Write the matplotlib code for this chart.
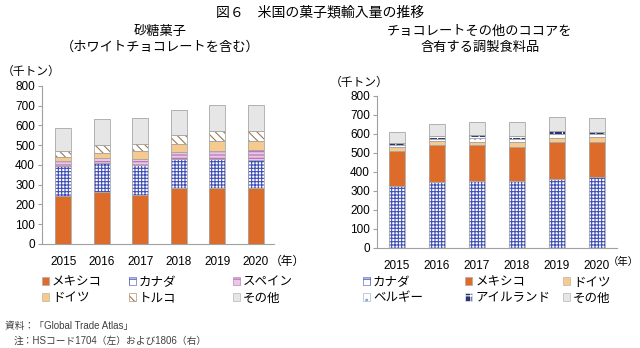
import numpy as np
import matplotlib
matplotlib.use("Agg")
import matplotlib.pyplot as plt
from matplotlib.patches import Patch

plt.rcParams['font.family'] = ['Liberation Sans', 'Noto Sans CJK JP', 'DejaVu Sans']
plt.rcParams['hatch.linewidth'] = 0.8

years = ["2015", "2016", "2017", "2018", "2019", "2020"]

# 左：砂糖菓子（累積値の上端を読み取り、差分で各国の量）
sugar_names = ["メキシコ", "カナダ", "スペイン", "ドイツ", "トルコ", "その他"]
sugar_mexico = [244, 263, 249, 283, 286, 286]
sugar_canada = [150, 146, 152, 146, 142, 137]
sugar_spain = [25, 24, 30, 39, 43, 52]
sugar_germany = [22, 30, 40, 40, 49, 47]
sugar_turkey = [29, 40, 37, 44, 51, 52]
sugar_other = [118, 128, 128, 128, 133, 128]

# 右：チョコレートその他のココアを含有する調製食料品
choco_names = ["カナダ", "メキシコ", "ドイツ", "ベルギー", "アイルランド", "その他"]
choco_canada = [325, 348, 353, 353, 364, 376]
choco_mexico = [183, 192, 187, 176, 193, 183]
choco_germany = [21, 21, 19, 28, 23, 23]
choco_belgium = [12, 15, 21, 18, 19, 17]
choco_ireland = [13, 11, 16, 12, 16, 13]
choco_other = [59, 63, 65, 76, 76, 72]

# 系列ごとの見た目 (面の色, ハッチ, ハッチの色)
styles = {
    "メキシコ": ("#DD6B2A", None, None),
    "カナダ": ("white", "+++++", "#3F4FB5"),
    "スペイン": ("#EBC6E6", "-----", "#B070B0"),
    "ドイツ": ("#F6C98C", None, None),
    "トルコ": ("white", "\\\\\\\\", "#9C7A55"),
    "その他": ("#E6E6E6", None, None),
    "ベルギー": ("white", "...", "#8AA4C4"),
    "アイルランド": ("#2B3270", "++", "white"),
}
edge = "#A8A8A8"

fig = plt.figure(figsize=(6.4, 3.48), dpi=100)
ax1 = fig.add_axes([0.0656, 0.2989, 0.3625, 0.454])
ax2 = fig.add_axes([0.589, 0.2874, 0.375, 0.4368])


def draw(ax, names, series, width):
    x = np.arange(len(years))
    bottom = np.zeros(len(years))
    handles = []
    for name, vals in zip(names, series):
        fc, hatch, hc = styles[name]
        vals = np.array(vals, dtype=float)
        if hatch:
            ax.bar(x, vals, width, bottom=bottom, color=fc, hatch=hatch,
                   edgecolor=hc, linewidth=0)
        else:
            ax.bar(x, vals, width, bottom=bottom, color=fc, linewidth=0)
        ax.bar(x, vals, width, bottom=bottom, fill=False, edgecolor=edge, linewidth=0.6)
        bottom += vals
        handles.append(Patch(facecolor=fc, hatch=hatch[:2] if hatch else None,
                             edgecolor=hc if hatch else edge, linewidth=0.4))
    ax.set_ylim(0, 800)
    ax.set_yticks(range(0, 801, 100))
    ax.set_xticks(x)
    ax.set_xticklabels(years)
    for s in ["top", "right"]:
        ax.spines[s].set_visible(False)
    for s in ["left", "bottom"]:
        ax.spines[s].set_color("#A0A0A0")
        ax.spines[s].set_linewidth(0.8)
    ax.tick_params(axis="y", length=3, color="#A0A0A0", labelsize=8.5, pad=2)
    ax.tick_params(axis="x", length=0, labelsize=8.5, pad=9)
    return handles


h1 = draw(ax1, sugar_names,
          [sugar_mexico, sugar_canada, sugar_spain, sugar_germany, sugar_turkey, sugar_other],
          0.42)
ax1.set_xlim(-0.55, 5.47)
h2 = draw(ax2, choco_names,
          [choco_canada, choco_mexico, choco_germany, choco_belgium, choco_ireland, choco_other],
          0.4)
ax2.set_xlim(-0.5, 5.5)

# 凡例：列ごとに置く（上段=0,1,2 下段=3,4,5）
def legend_cols(handles, names, xs):
    for c, xc in enumerate(xs):
        fig.legend([handles[c], handles[c + 3]], [names[c], names[c + 3]],
                   loc="upper left", bbox_to_anchor=(xc, 0.205), frameon=False,
                   fontsize=9, handlelength=0.55, handleheight=0.55, handletextpad=0.25,
                   labelspacing=0.3, borderpad=0, borderaxespad=0)


legend_cols(h1, sugar_names, [0.0656, 0.2016, 0.364])
legend_cols(h2, choco_names, [0.567, 0.727, 0.880])

fig.text(0.5, 0.965, "図６　米国の菓子類輸入量の推移", ha="center", va="center", fontsize=10)
fig.text(0.25, 0.885, "砂糖菓子\n（ホワイトチョコレートを含む）", ha="center", va="center",
         fontsize=9.5, linespacing=1.35)
fig.text(0.75, 0.885, "チョコレートその他のココアを\n含有する調製食料品", ha="center", va="center",
         fontsize=9.5, linespacing=1.35)
fig.text(0.003, 0.793, "（千トン）", ha="left", va="center", fontsize=8.5)
fig.text(0.515, 0.762, "（千トン）", ha="left", va="center", fontsize=8.5)
fig.text(0.421, 0.247, "（年）", ha="left", va="center", fontsize=8.5)
fig.text(0.950, 0.247, "（年）", ha="left", va="center", fontsize=7.5)
fig.text(0.008, 0.063, "資料：「Global Trade Atlas」", ha="left", va="center",
         fontsize=7, color="#404040")
fig.text(0.022, 0.02, "注：HSコード1704（左）および1806（右）", ha="left", va="center",
         fontsize=7, color="#404040")

fig.savefig("out.png", dpi=100)
